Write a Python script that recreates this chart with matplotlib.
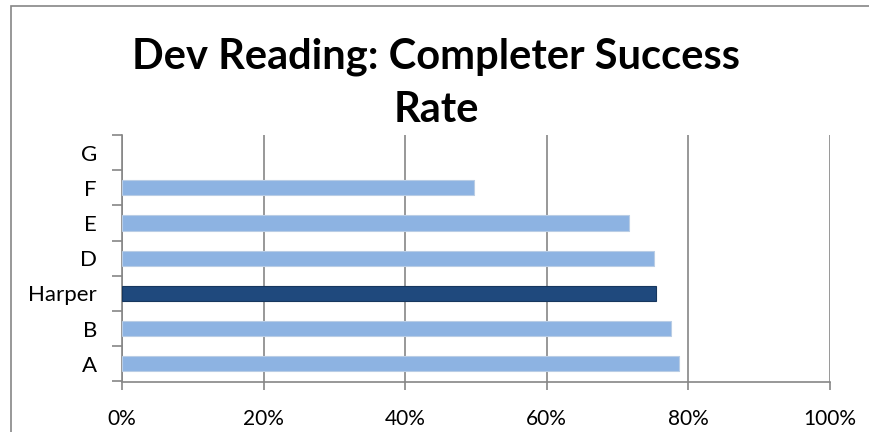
import matplotlib
matplotlib.use("Agg")
import matplotlib.pyplot as plt
from matplotlib.patches import Rectangle
from matplotlib.ticker import FuncFormatter, MultipleLocator

# ── data ──
categories = ["A", "B", "Harper", "D", "E", "F", "G"]
values = [78.7, 77.5, 75.4, 75.1, 71.6, 49.7, 0.0]
highlight = "Harper"

LIGHT = "#8DB3E2"
DARK = "#1F497D"
GRID = "#868686"

plt.rcParams["font.family"] = ["Lato", "DejaVu Sans"]

fig = plt.figure(figsize=(8.69, 4.32), dpi=100)
ax = fig.add_axes([122 / 869, 1 - 381.5 / 432, (830 - 122) / 869, (381.5 - 135) / 432])

colors = [DARK if c == highlight else LIGHT for c in categories]
edges = ["#17375E" if c == highlight else "#B9CDE5" for c in categories]
widths = [0.8 if v > 0 else 0 for v in values]
ypos = range(len(categories))
ax.barh(ypos, values, height=0.43, color=colors, edgecolor=edges, linewidth=widths, zorder=3)

ax.set_xlim(0, 100)
ax.set_ylim(-0.5, len(categories) - 0.5)
ax.xaxis.set_major_locator(MultipleLocator(20))
ax.xaxis.set_major_formatter(FuncFormatter(lambda v, p: f"{v:.0f}%"))
ax.set_yticks(list(ypos))
ax.set_yticklabels(categories)
ax.set_yticks([i - 0.5 for i in range(len(categories) + 1)], minor=True)

ax.grid(axis="x", color=GRID, linewidth=1.2, zorder=0)
for s in ["top", "right"]:
    ax.spines[s].set_visible(False)
for s in ["left", "bottom"]:
    ax.spines[s].set_color(GRID)
    ax.spines[s].set_linewidth(1.2)

ax.tick_params(axis="y", which="major", length=0, pad=18, labelsize=16)
ax.tick_params(axis="y", which="minor", length=7, width=1.2, color=GRID, direction="out")
ax.tick_params(axis="x", which="major", length=6, width=1.2, color=GRID, pad=14, labelsize=15)

fig.text(0.5 + 2 / 869, 1 - 57 / 432, "Dev Reading: Completer Success", ha="center", va="center",
         fontsize=30, fontweight="bold")
fig.text(0.5 + 2 / 869, 1 - 110 / 432, "Rate", ha="center", va="center",
         fontsize=30, fontweight="bold")

# chart frame (runs off the right and bottom edges as in the reference)
fig.patches.append(Rectangle((11 / 869, -0.05), 1.1, 1 - 6 / 432 + 0.05,
                             transform=fig.transFigure, fill=False,
                             edgecolor=GRID, linewidth=1.2))

fig.savefig("out.png", dpi=100)
